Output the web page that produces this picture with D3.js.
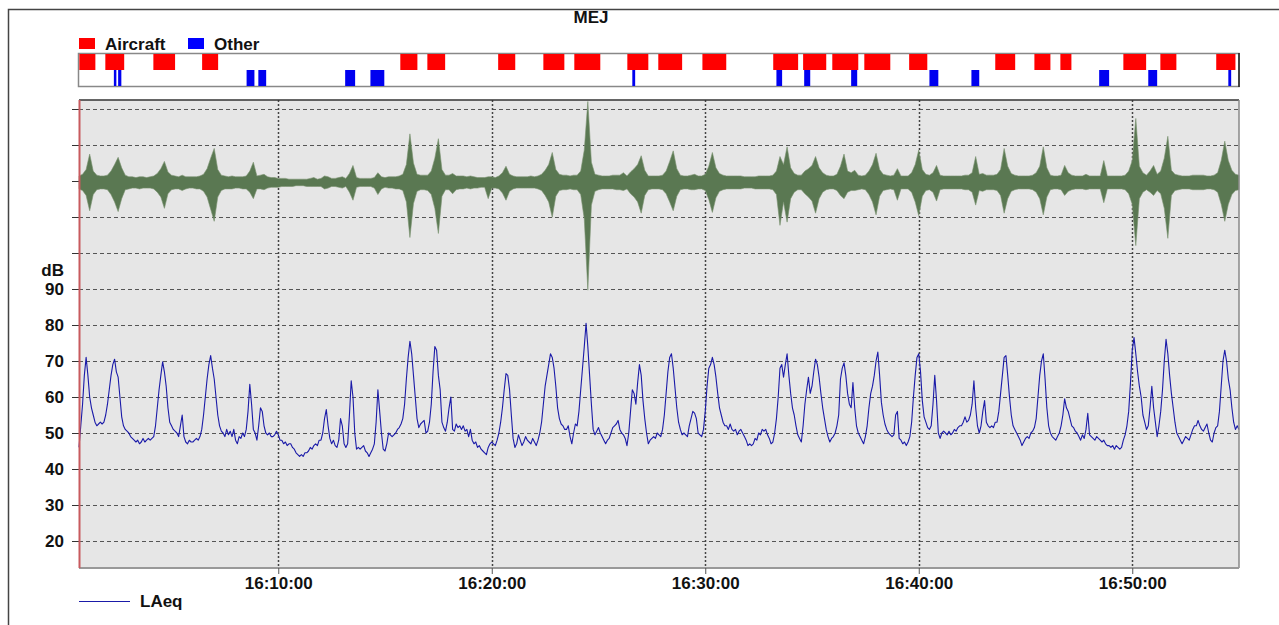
<!DOCTYPE html>
<html>
<head>
<meta charset="utf-8">
<script src="https://cdn.jsdelivr.net/npm/d3@7"></script>
<style>
  body { margin: 0; background: #fff; }
  svg { display: block; font-family: "Liberation Sans", Arial, sans-serif; }
</style>
</head>
<body>
<div id="wrapper"></div>
<script>
// ---- data ----
const chartTitle = "MEJ"
const seriesStart = "16:00:40"
const laeqStep = 5      // seconds between LAeq samples
const waveStep = 10     // seconds between waveform envelope samples
const xTickLabels = ["16:10:00", "16:20:00", "16:30:00", "16:40:00", "16:50:00"]
const yTickValues = [20, 30, 40, 50, 60, 70, 80, 90, 100, 110, 120, 130, 140]
const yLabelMax = 90

// LAeq, dB, one row per minute
const laeqValues = [
  46, 52, 58, 66,
  71, 66, 60, 57, 55, 53, 52, 52.5, 53, 52.5, 53, 55,
  58, 62, 66, 69, 70.5, 67, 65.5, 60, 54.5, 52, 51, 50.5,
  50, 49, 48.5, 48, 47.5, 48, 47, 47.5, 48.5, 47.5, 48, 48.5,
  48, 48.5, 49, 52, 57, 62, 66, 69.8, 67, 63, 57, 53,
  52, 51, 50.5, 50, 49, 52, 55, 49, 47.5, 47, 48, 47.5,
  47.5, 48, 48.5, 48, 49, 51, 55, 60, 65, 69, 71.5, 68,
  65, 60, 55, 52, 50.5, 50, 49, 51, 49.5, 50.5, 49, 51,
  48, 47, 49, 48.5, 50, 49, 51, 56, 63.5, 58, 51, 50,
  48, 52, 57, 56, 52, 50, 49.5, 50, 49, 49, 49.5, 50.5,
  49.5, 48, 48, 47, 47.5, 46.5, 47, 47, 46, 45.5, 44.5, 44,
  43.5, 44, 43.5, 44.5, 44.5, 45, 46, 45.5, 46.5, 47, 46.5, 48,
  48, 50, 54, 56.5, 52, 48.5, 47, 48, 46.5, 46, 48, 54,
  52, 47, 46, 47, 55, 64.5, 60, 50, 45.5, 46, 45.5, 46,
  46.5, 45, 44.5, 43.5, 44.5, 45.5, 47, 53, 62, 56, 50, 45.5,
  45, 47, 50, 49.5, 49, 49.5, 50, 51, 51.5, 52.5, 54, 58,
  65, 71, 75.5, 72, 66, 60, 54, 51.5, 52.5, 53, 53.5, 50,
  50.5, 53, 58, 67, 74, 73, 66, 62, 53, 51.5, 50.5, 53,
  57, 60, 51, 50.5, 52.5, 51.5, 52, 51, 52, 50.5, 51, 49,
  51, 48, 47, 47.5, 46, 46.5, 45.5, 45, 44.5, 44, 46, 47,
  47.5, 47, 46.5, 48, 50, 53, 57, 62, 66.5, 66, 62, 55,
  48.5, 46, 47, 49.5, 48, 46.5, 47.5, 49, 48, 47.5, 47, 48.5,
  47.5, 46.5, 48, 50, 53, 58, 63, 66, 69, 72, 71, 68,
  63, 57, 54, 52.5, 52, 51, 51, 52, 49, 47, 50, 52.5,
  52, 56, 62, 68, 74, 80.5, 74, 66, 58, 51, 49.5, 50.5,
  51.5, 50, 49, 48, 47, 48, 48.5, 50, 51.5, 52, 52.5, 53.5,
  51, 50, 49.5, 48.5, 46.5, 50, 56, 62, 61, 58, 64, 69,
  66, 59, 54, 50, 47, 48, 48.5, 49, 48.5, 50, 49.5, 49,
  51, 55, 61, 67, 71, 72, 68, 62.5, 57, 53, 51, 49.5,
  50, 49.5, 49, 52, 54, 56, 55.5, 54, 50, 49.5, 49, 51,
  56, 63, 68, 69, 71, 69, 65.5, 61, 57, 55, 53, 52,
  52, 51, 52.5, 51, 50.5, 51, 49.5, 50.5, 51, 50, 49, 48,
  46.5, 47, 46.5, 47, 48.5, 48, 50, 49.5, 51, 50.5, 51, 49.5,
  48.5, 47, 47.5, 50, 54, 60, 68, 69, 65.5, 69, 72, 66,
  61, 57, 55, 52, 49.5, 48.5, 47.5, 52, 58, 62, 65.5, 61,
  63, 67, 70.5, 69, 65.5, 61, 57, 54, 51, 49, 47.5, 48.5,
  49, 50, 52, 55, 65, 68, 69.5, 66, 61, 58, 57, 64,
  57, 52, 50, 49, 48, 47, 49, 52, 57, 61, 63, 66,
  70, 72.5, 66, 58.5, 55, 52.5, 51, 50, 49.5, 49, 49.5, 55,
  56, 48.5, 48, 47, 47.5, 46.5, 47.5, 49, 53, 60, 66, 71,
  72, 67, 59, 54.5, 53, 51.5, 51, 52, 58, 66, 59, 50,
  48.5, 50, 50.5, 50, 49.5, 50.5, 49.5, 50, 51, 50.5, 51.5, 52,
  52, 53, 54.5, 53, 53.5, 55, 58, 64.5, 57, 52, 50, 52,
  56, 59, 53, 52, 51.5, 52, 51.5, 53, 53, 56, 61, 66,
  71, 71.5, 66, 60, 55, 52, 51, 50, 49, 48, 46.5, 47.5,
  48.5, 49, 48.5, 50, 50.5, 51.5, 54, 60, 66, 70, 72, 65,
  57, 52, 50, 49, 48.5, 48, 49, 50, 52, 55, 59.5, 57,
  56, 54, 52, 51.5, 50.5, 50, 49, 48, 49.5, 48.5, 51, 55.5,
  49.5, 49, 48.5, 48, 49, 48.5, 48, 47.5, 48, 47, 46.5, 46.5,
  46, 46.5, 45.5, 46.5, 46, 45.5, 46, 48, 49.5, 52, 56, 64,
  73, 76.5, 72, 67, 63, 60, 55, 53, 51, 52, 57, 63,
  57, 53, 49, 52, 56, 62, 70, 76, 72, 66, 61, 57,
  53, 50, 49, 48, 47, 48, 49, 48.5, 48, 49.5, 51, 52,
  52, 53.5, 52, 51, 50.5, 51.5, 52.5, 50, 48, 47.5, 50, 51.5,
  52, 56, 63, 70, 73, 70, 65, 62, 57, 53, 51, 52,
  51
]

// waveform envelope, % of full scale, one row per minute
const waveUp = [
  8, 10,
  16, 35, 14, 9, 8, 8,
  9, 14, 22, 31, 18, 9,
  7, 7, 6, 7, 7, 6,
  7, 8, 11, 17, 26, 13,
  9, 8, 7, 9, 7, 7,
  7, 7, 8, 10, 17, 30,
  42, 16, 9, 8, 7, 8,
  7, 7, 7, 8, 14, 25,
  8, 9, 10, 7, 6, 6,
  5, 5, 5, 4, 4, 4,
  4, 4, 4, 5, 6, 4,
  5, 8, 7, 5, 5, 6,
  7, 5, 11, 21, 6, 5,
  5, 5, 5, 6, 12, 7,
  6, 7, 7, 7, 8, 10,
  22, 60, 24, 10, 9, 9,
  9, 14, 30, 54, 16, 9,
  9, 11, 8, 8, 8, 7,
  8, 7, 6, 6, 6, 7,
  7, 6, 8, 12, 20, 10,
  8, 7, 7, 7, 7, 8,
  7, 8, 10, 15, 22, 37,
  16, 10, 9, 9, 8, 9,
  9, 14, 40, 100, 25, 10,
  9, 8, 8, 8, 9, 9,
  9, 12, 8, 13, 17, 22,
  33, 15, 8, 8, 8, 8,
  9, 14, 26, 39, 17, 9,
  8, 8, 9, 10, 8, 8,
  10, 20, 37, 18, 11, 9,
  8, 8, 8, 8, 8, 7,
  7, 7, 7, 8, 8, 8,
  8, 9, 14, 32, 22, 44,
  18, 11, 9, 9, 14, 17,
  21, 32, 18, 12, 9, 8,
  8, 10, 20, 35, 14, 12,
  15, 9, 8, 9, 14, 22,
  36, 16, 10, 9, 8, 9,
  17, 8, 8, 8, 12, 22,
  40, 16, 10, 9, 12, 21,
  9, 8, 8, 8, 8, 8,
  8, 9, 9, 12, 32, 10,
  11, 9, 9, 9, 10, 16,
  42, 20, 11, 9, 8, 8,
  8, 8, 9, 12, 20, 44,
  18, 9, 8, 8, 9, 21,
  12, 9, 8, 8, 8, 10,
  8, 8, 8, 8, 27, 8,
  8, 8, 8, 8, 9, 14,
  27, 79, 20, 12, 9, 14,
  21, 10, 14, 30, 57, 15,
  10, 9, 8, 8, 8, 9,
  9, 9, 9, 8, 8, 9,
  12, 27, 51, 27, 15, 10,
  9
]
const waveDown = [
  8, 10,
  16, 35, 15, 9, 8, 8,
  9, 15, 24, 36, 20, 9,
  8, 7, 7, 8, 7, 7,
  7, 8, 12, 18, 32, 14,
  9, 8, 8, 10, 8, 7,
  7, 8, 8, 11, 18, 33,
  48, 18, 10, 8, 8, 8,
  7, 7, 8, 8, 12, 20,
  8, 8, 9, 7, 6, 6,
  6, 5, 5, 5, 5, 4,
  4, 4, 5, 5, 5, 5,
  5, 8, 7, 5, 5, 6,
  7, 5, 12, 22, 6, 5,
  5, 5, 5, 7, 15, 8,
  6, 7, 7, 8, 8, 10,
  24, 68, 26, 11, 9, 9,
  10, 15, 32, 63, 17, 9,
  9, 14, 9, 8, 8, 7,
  8, 7, 7, 6, 6, 20,
  7, 7, 8, 13, 22, 11,
  8, 7, 7, 7, 7, 7,
  7, 8, 10, 16, 24, 43,
  17, 10, 9, 9, 8, 9,
  9, 15, 45, 133, 28, 11,
  9, 8, 8, 8, 8, 9,
  9, 10, 8, 14, 18, 24,
  38, 16, 9, 8, 8, 8,
  9, 14, 24, 35, 17, 9,
  8, 8, 9, 9, 8, 8,
  10, 21, 37, 19, 11, 9,
  8, 8, 8, 8, 8, 7,
  7, 7, 8, 8, 8, 8,
  8, 9, 15, 53, 24, 49,
  20, 12, 9, 9, 14, 18,
  23, 38, 20, 12, 9, 8,
  8, 10, 16, 20, 12, 10,
  10, 9, 8, 9, 15, 24,
  40, 17, 10, 9, 8, 9,
  22, 8, 8, 8, 12, 24,
  41, 17, 10, 9, 12, 23,
  9, 8, 8, 8, 8, 8,
  8, 9, 9, 12, 28, 10,
  11, 9, 9, 9, 10, 16,
  38, 20, 11, 9, 8, 8,
  8, 8, 9, 12, 20, 40,
  18, 9, 8, 8, 9, 16,
  11, 9, 8, 8, 8, 9,
  8, 8, 8, 8, 25, 8,
  8, 8, 8, 8, 9, 14,
  27, 78, 20, 12, 9, 12,
  16, 10, 14, 32, 69, 16,
  10, 9, 8, 8, 8, 9,
  9, 9, 9, 8, 8, 9,
  12, 27, 48, 27, 15, 10,
  9
]

// identified events
const aircraftStart = ["16:00:41", "16:01:54", "16:04:09", "16:06:26", "16:15:43", "16:16:59", "16:20:18", "16:22:25",
  "16:23:52", "16:26:21", "16:27:48", "16:29:52", "16:33:11", "16:34:35", "16:35:57", "16:37:27", "16:39:33",
  "16:43:35", "16:45:25", "16:46:38", "16:49:35", "16:51:19", "16:53:56"]
const aircraftEnd = ["16:01:26", "16:02:47", "16:05:10", "16:07:11", "16:16:31", "16:17:49", "16:21:06", "16:23:24",
  "16:25:05", "16:27:20", "16:28:55", "16:30:59", "16:34:21", "16:35:40", "16:37:10", "16:38:40", "16:40:24",
  "16:44:31", "16:46:10", "16:47:09", "16:50:39", "16:52:04", "16:54:50"]
const otherStart = ["16:02:18", "16:02:30", "16:08:31", "16:09:04", "16:13:08", "16:14:19", "16:26:35", "16:33:20",
  "16:34:38", "16:36:50", "16:40:30", "16:42:28", "16:48:27", "16:50:45", "16:54:30"]
const otherEnd = ["16:02:25", "16:02:39", "16:08:53", "16:09:26", "16:13:36", "16:14:58", "16:26:43", "16:33:36",
  "16:34:55", "16:37:07", "16:40:55", "16:42:50", "16:48:55", "16:51:10", "16:54:38"]

function drawChart() {
    const parseTime = d3.timeParse("%H:%M:%S")
    const t0 = parseTime(seriesStart)

    const laeq = laeqValues.map((v, i) => ({ t: d3.timeSecond.offset(t0, i * laeqStep), v }))
    const wave = waveUp.map((u, i) => ({ t: d3.timeSecond.offset(t0, i * waveStep), up: u, down: waveDown[i] }))
    const aircraft = aircraftStart.map((s, i) => ({ start: parseTime(s), end: parseTime(aircraftEnd[i]) }))
    const other = otherStart.map((s, i) => ({ start: parseTime(s), end: parseTime(otherEnd[i]) }))

    const dateAccessor = d => d.t
    const laeqAccessor = d => d.v

    const fontSize = "17px"

    // dimensions
    let dimensions = {
        width: 1279,
        height: 625,
        margin: { top: 100, right: 40, bottom: 57, left: 79 }
    }
    dimensions.boundedWidth = dimensions.width - dimensions.margin.left - dimensions.margin.right
    dimensions.boundedHeight = dimensions.height - dimensions.margin.top - dimensions.margin.bottom

    const wrapper = d3.select("#wrapper")
        .append("svg")
            .attr("width", dimensions.width)
            .attr("height", dimensions.height)

    // scales
    const xScale = d3.scaleTime()
        .domain([t0, d3.timeSecond.offset(t0, (laeqValues.length - 1) * laeqStep)])
        .range([0, dimensions.boundedWidth])

    const yScale = d3.scaleLinear()
        .domain([12.5, 142.5])
        .range([dimensions.boundedHeight, 0])

    // waveform lives in the upper part of the panel, zero just under the 120 line
    const waveScale = d3.scaleLinear()
        .domain([-100, 100])
        .range([yScale(97.1), yScale(142.1)])

    // outer frame
    wrapper.append("path")
        .attr("d", "M8.5,625V9.5H1279")
        .attr("fill", "none")
        .attr("stroke", "#444")
        .attr("stroke-width", 1.5)

    wrapper.append("text")
        .attr("x", 591)
        .attr("y", 23)
        .attr("text-anchor", "middle")
        .style("font-size", fontSize)
        .style("font-weight", "bold")
        .attr("fill", "#111")
        .text(chartTitle)

    // legend for events
    const legend = wrapper.append("g")
    const legendItems = [["Aircraft", "#ff0000", 79], ["Other", "#0000ff", 188]]
    legendItems.forEach(([label, colour, lx]) => {
        legend.append("rect")
            .attr("x", lx).attr("y", 38)
            .attr("width", 16).attr("height", 11)
            .attr("fill", colour)
        legend.append("text")
            .attr("x", lx + 26).attr("y", 50)
            .style("font-size", fontSize)
            .style("font-weight", "bold")
            .attr("fill", "#111")
            .text(label)
    })

    // event strip
    const strip = wrapper.append("g")
        .attr("transform", `translate(${dimensions.margin.left}, 53)`)

    strip.append("rect")
        .attr("x", -0.5).attr("y", 0.5)
        .attr("width", dimensions.boundedWidth + 0.5)
        .attr("height", 33)
        .attr("fill", "#fff")
        .attr("stroke", "#888")
        .attr("stroke-width", 1.5)

    strip.selectAll(".aircraft")
        .data(aircraft)
        .join("rect")
            .attr("class", "aircraft")
            .attr("x", d => xScale(d.start))
            .attr("width", d => xScale(d.end) - xScale(d.start))
            .attr("y", 1)
            .attr("height", 16)
            .attr("fill", "#ff0000")

    strip.selectAll(".other")
        .data(other)
        .join("rect")
            .attr("class", "other")
            .attr("x", d => xScale(d.start))
            .attr("width", d => Math.max(2, xScale(d.end) - xScale(d.start)))
            .attr("y", 17)
            .attr("height", 16)
            .attr("fill", "#0000f0")

    strip.append("line")
        .attr("x1", dimensions.boundedWidth).attr("x2", dimensions.boundedWidth)
        .attr("y1", 0).attr("y2", 34)
        .attr("stroke", "#222")
        .attr("stroke-width", 1.5)

    // main panel
    const bounds = wrapper.append("g")
        .attr("transform", `translate(${dimensions.margin.left}, ${dimensions.margin.top})`)

    bounds.append("rect")
        .attr("width", dimensions.boundedWidth)
        .attr("height", dimensions.boundedHeight)
        .attr("fill", "#e6e6e6")

    // grid
    bounds.append("g")
        .selectAll("line")
        .data(yTickValues)
        .join("line")
            .attr("x1", 0)
            .attr("x2", dimensions.boundedWidth)
            .attr("y1", d => yScale(d) + 0.5)
            .attr("y2", d => yScale(d) + 0.5)
            .attr("stroke", "#555")
            .attr("stroke-dasharray", "4,3")

    const xTickValues = xTickLabels.map(parseTime)
    bounds.append("g")
        .selectAll("line")
        .data(xTickValues)
        .join("line")
            .attr("x1", d => Math.round(xScale(d)) + 0.5)
            .attr("x2", d => Math.round(xScale(d)) + 0.5)
            .attr("y1", 0)
            .attr("y2", dimensions.boundedHeight)
            .attr("stroke", "#444")
            .attr("stroke-width", 1.5)
            .attr("stroke-dasharray", "2,2")

    // waveform
    const waveArea = d3.area()
        .x(d => xScale(dateAccessor(d)))
        .y0(d => waveScale(-d.down))
        .y1(d => waveScale(d.up))

    bounds.append("path")
        .attr("d", waveArea(wave))
        .attr("fill", "#5a7852")
        .attr("stroke", "#7a9270")
        .attr("stroke-width", 0.6)

    // LAeq line
    const lineGenerator = d3.line()
        .x(d => xScale(dateAccessor(d)))
        .y(d => yScale(laeqAccessor(d)))

    bounds.append("path")
        .attr("d", lineGenerator(laeq))
        .attr("fill", "none")
        .attr("stroke", "#1a1aa8")
        .attr("stroke-width", 1.1)
        .attr("stroke-linejoin", "round")

    // panel borders
    bounds.append("line")
        .attr("x1", 0).attr("x2", dimensions.boundedWidth)
        .attr("y1", 0).attr("y2", 0)
        .attr("stroke", "#333").attr("stroke-width", 1.5)
    bounds.append("line")
        .attr("x1", dimensions.boundedWidth).attr("x2", dimensions.boundedWidth)
        .attr("y1", 0).attr("y2", dimensions.boundedHeight)
        .attr("stroke", "#888").attr("stroke-width", 1.5)
    bounds.append("line")
        .attr("x1", 0).attr("x2", dimensions.boundedWidth)
        .attr("y1", dimensions.boundedHeight).attr("y2", dimensions.boundedHeight)
        .attr("stroke", "#999").attr("stroke-width", 2)

    // axes
    const yAxisGenerator = d3.axisLeft(yScale)
        .tickValues(yTickValues)
        .tickSize(7)
        .tickPadding(8)
        .tickFormat(d => d <= yLabelMax ? d : "")

    const yAxis = bounds.append("g")
        .call(yAxisGenerator)
    yAxis.select(".domain").remove()
    yAxis.selectAll("line").attr("stroke", "#333")
    yAxis.selectAll("text")
        .style("font-size", fontSize)
        .style("font-weight", "bold")
        .style("font-family", "Liberation Sans, Arial, sans-serif")
        .attr("fill", "#111")

    yAxis.append("text")
        .attr("x", -15)
        .attr("y", yScale(yLabelMax) - 13)
        .attr("text-anchor", "end")
        .style("font-size", fontSize)
        .style("font-weight", "bold")
        .attr("fill", "#111")
        .text("dB")

    bounds.append("line")
        .attr("x1", 0.5).attr("x2", 0.5)
        .attr("y1", 0).attr("y2", dimensions.boundedHeight)
        .attr("stroke", "#c85a5e")
        .attr("stroke-width", 2)

    const xAxisGenerator = d3.axisBottom(xScale)
        .tickValues(xTickValues)
        .tickSize(6)
        .tickPadding(3)
        .tickFormat(d3.timeFormat("%H:%M:%S"))

    const xAxis = bounds.append("g")
        .attr("transform", `translate(0, ${dimensions.boundedHeight})`)
        .call(xAxisGenerator)
    xAxis.select(".domain").remove()
    xAxis.selectAll("line").attr("stroke", "#555")
    xAxis.selectAll("text")
        .style("font-size", fontSize)
        .style("font-weight", "bold")
        .style("font-family", "Liberation Sans, Arial, sans-serif")
        .attr("fill", "#111")

    // series legend
    wrapper.append("line")
        .attr("x1", 79).attr("x2", 130)
        .attr("y1", 601.5).attr("y2", 601.5)
        .attr("stroke", "#1a1aa8")
        .attr("stroke-width", 1)
    wrapper.append("text")
        .attr("x", 140).attr("y", 607)
        .style("font-size", fontSize)
        .style("font-weight", "bold")
        .attr("fill", "#111")
        .text("LAeq")
}

drawChart()
</script>
</body>
</html>
